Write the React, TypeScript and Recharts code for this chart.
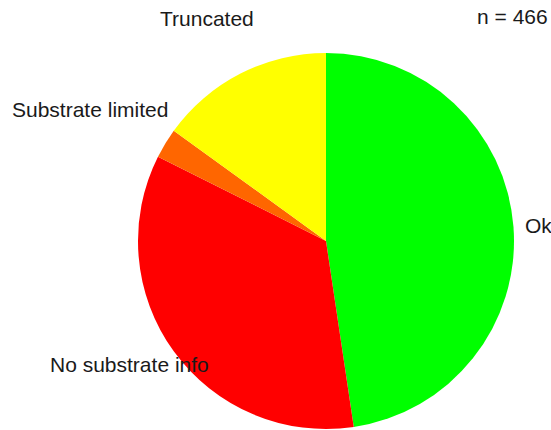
import { PieChart, Pie, Cell } from "recharts";

const categories = ["Ok", "No substrate info", "Substrate limited", "Truncated"];
const counts = [222, 162, 12, 70];
const colors = ["#00ff00", "#ff0000", "#ff6600", "#ffff00"];
const total = 466;

const data = categories.map((name, i) => ({ name, value: counts[i] }));

// where R put each label (text start x, baseline y)
const labelPos: Record<string, [number, number]> = {
  Ok: [525, 233],
  "No substrate info": [50, 372],
  "Substrate limited": [12, 117],
  Truncated: [160, 26],
};

const font = "Liberation Sans, Arial, sans-serif";

function renderLabel(props: any) {
  const p = labelPos[props.name];
  if (!p) return null;
  return (
    <text
      x={p[0]}
      y={p[1]}
      fill="#1a1a1a"
      fontSize={21}
      fontFamily={font}
      textAnchor="start"
    >
      {props.name}
    </text>
  );
}

export default function App() {
  return (
    <div
      style={{
        position: "fixed",
        left: 0,
        top: 0,
        width: 551,
        height: 430,
        background: "#fff",
        overflow: "hidden",
      }}
    >
      <PieChart width={551} height={430} margin={{ top: 0, right: 0, bottom: 0, left: 0 }}>
        <Pie
          data={data}
          dataKey="value"
          nameKey="name"
          cx={326}
          cy={241}
          outerRadius={188}
          startAngle={90}
          endAngle={-270}
          stroke="none"
          label={renderLabel}
          labelLine={false}
          isAnimationActive={false}
        >
          {data.map((d, i) => (
            <Cell key={d.name} fill={colors[i]} />
          ))}
        </Pie>
        <text x={477} y={24} fill="#1a1a1a" fontSize={21} fontFamily={font}>
          n = {total}
        </text>
      </PieChart>
    </div>
  );
}
